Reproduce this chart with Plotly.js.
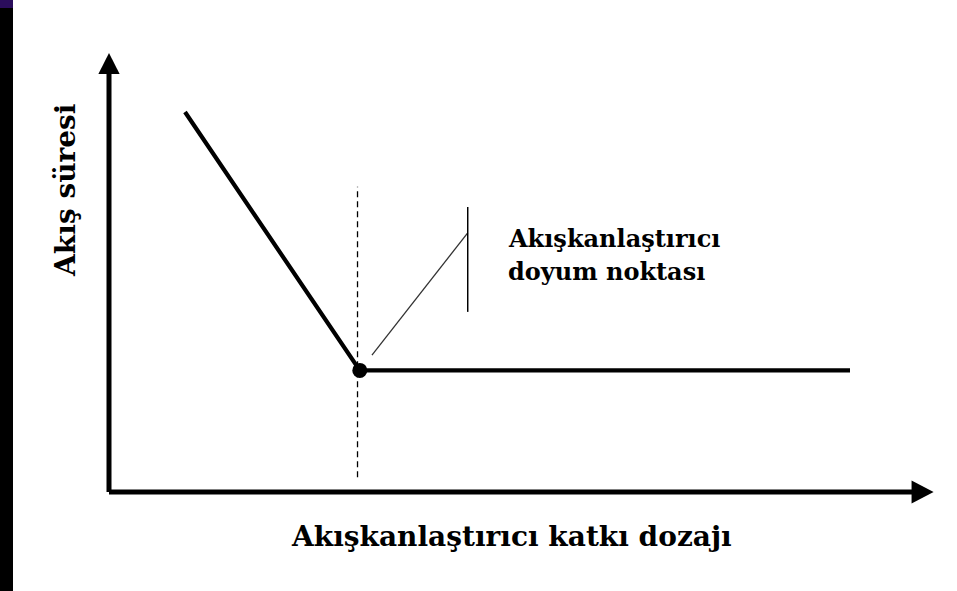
<!DOCTYPE html>
<html>
<head>
<meta charset="utf-8">
<script src="https://cdn.plot.ly/plotly-3.0.1.min.js"></script>
<style>
  html, body { margin: 0; padding: 0; background: #ffffff; }
  #chart { width: 957px; height: 591px; }
</style>
</head>
<body>
<div id="chart"></div>
<script>
// Flow time versus superplasticizer dosage (schematic units)
const dosage = [1.0, 3.3, 9.75];
const flowTime = [10.0, 3.2, 3.2];

// Saturation point of the superplasticizer
const saturationDosage = [3.3];
const saturationFlow = [3.2];

// Axis extents (arrow tips) and labels
const xAxisEnd = 10.85;
const yAxisEnd = 11.55;
const xTitle = 'Akışkanlaştırıcı katkı dozajı';
const yTitle = 'Akış süresi';
const noteLines = ['Akışkanlaştırıcı', 'doyum noktası'];

const serif = '"DejaVu Serif", "Liberation Serif", serif';

const curve = {
  x: dosage, y: flowTime, type: 'scatter', mode: 'lines',
  line: { color: '#000000', width: 4.2 }, hoverinfo: 'skip'
};
const point = {
  x: saturationDosage, y: saturationFlow, type: 'scatter', mode: 'markers',
  marker: { color: '#000000', size: 15 }, hoverinfo: 'skip'
};

const sx = saturationDosage[0];
const sy = saturationFlow[0];

const shapes = [
  // side strip
  { type: 'rect', xref: 'paper', yref: 'paper', x0: 0, x1: 13 / 957, y0: 0, y1: 1,
    fillcolor: '#000000', line: { width: 0 } },
  { type: 'rect', xref: 'paper', yref: 'paper', x0: 0, x1: 13 / 957, y0: 1 - 8 / 591, y1: 1,
    fillcolor: '#2b0d5c', line: { width: 0 } },
  // axes
  { type: 'line', x0: 0, x1: xAxisEnd - 0.2, y0: 0, y1: 0, line: { color: '#000', width: 5 } },
  { type: 'line', x0: 0, x1: 0, y0: 0, y1: yAxisEnd - 0.3, line: { color: '#000', width: 5 } },
  // arrow heads
  { type: 'path', path: `M ${xAxisEnd} 0 L ${xAxisEnd - 0.29} 0.3 L ${xAxisEnd - 0.29} -0.3 Z`,
    fillcolor: '#000', line: { width: 0 } },
  { type: 'path', path: `M 0 ${yAxisEnd} L -0.14 ${yAxisEnd - 0.55} L 0.14 ${yAxisEnd - 0.55} Z`,
    fillcolor: '#000', line: { width: 0 } },
  // dashed marker line through the saturation point
  { type: 'line', x0: sx - 0.03, x1: sx - 0.03, y0: 0.39, y1: 8.03,
    line: { color: '#000', width: 1.3, dash: '6px,4px' } },
  // pointer to the saturation point
  { type: 'line', x0: sx + 0.16, x1: 4.72, y0: sy + 0.4, y1: 6.82,
    line: { color: '#333', width: 1.3 } },
  { type: 'line', x0: 4.72, x1: 4.72, y0: 4.74, y1: 7.5,
    line: { color: '#000', width: 1.5 } }
];

const annotations = [
  { x: 5.22, y: 6.68, xanchor: 'left', yanchor: 'middle', align: 'left', showarrow: false,
    text: '<b>' + noteLines[0] + '</b>', font: { family: serif, size: 24, color: '#000' } },
  { x: 5.22, y: 5.8, xanchor: 'left', yanchor: 'middle', align: 'left', showarrow: false,
    text: '<b>' + noteLines[1] + '</b>', font: { family: serif, size: 24, color: '#000' } },
  { x: 5.3, y: -1.16, xanchor: 'center', yanchor: 'middle', showarrow: false,
    text: '<b>' + xTitle + '</b>', font: { family: serif, size: 28, color: '#000' } },
  { x: -0.566, y: 7.95, xanchor: 'center', yanchor: 'middle', showarrow: false, textangle: -90,
    text: '<b>' + yTitle + '</b>', font: { family: serif, size: 28, color: '#000' } }
];

const layout = {
  width: 957, height: 591,
  margin: { l: 0, r: 0, t: 0, b: 0 },
  paper_bgcolor: '#ffffff', plot_bgcolor: '#ffffff',
  showlegend: false,
  xaxis: { range: [-109 / 76, (957 - 109) / 76], visible: false, fixedrange: true },
  yaxis: { range: [-99 / 38, 492 / 38], visible: false, fixedrange: true },
  shapes: shapes,
  annotations: annotations
};

Plotly.newPlot('chart', [curve, point], layout, { displayModeBar: false, staticPlot: true });
</script>
</body>
</html>
